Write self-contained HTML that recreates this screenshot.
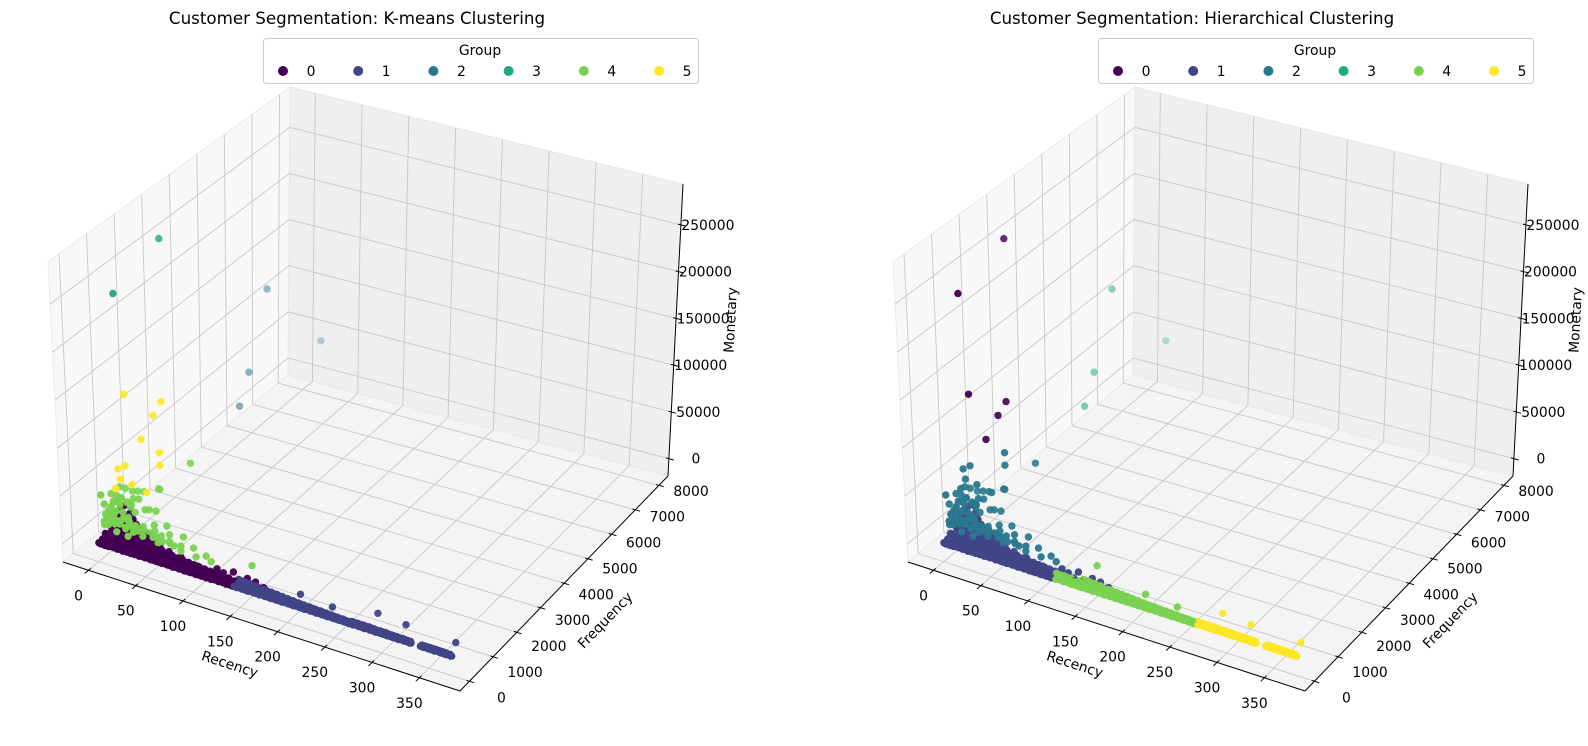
<!DOCTYPE html>
<html><head><meta charset="utf-8"><title>Customer Segmentation</title>
<style>
html,body{margin:0;padding:0;background:#fff;}
svg{display:block;font-family:"DejaVu Sans","Liberation Sans",sans-serif;}
</style></head>
<body>
<svg id="fig" width="1588" height="746" viewBox="0 0 1588 746" xmlns="http://www.w3.org/2000/svg">
<rect x="0" y="0" width="1588" height="746" fill="#fff"/>
</svg>
<script>
// ---------- data (Recency, Frequency, Monetary) ----------
const recencyTicks = [0,50,100,150,200,250,300,350];
const frequencyTicks = [0,1000,2000,3000,4000,5000,6000,7000,8000];
const monetaryTicks = [0,50000,100000,150000,200000,250000];
const groupLabels = [0,1,2,3,4,5];
const viridis6 = ["#440154","#414487","#2a788e","#22a884","#7ad151","#fde725"];

// floor band r 0-114  (kmeans 0, hier 1)
const bandA = [[0,40,500],[1,30,350],[2,55,700],[3,25,300],[4,60,800],[5,35,450],[6,50,650],[7,20,300],[8,45,600],[9,30,400],[10,55,750],[11,25,350],[12,40,500],[14,50,650],[16,30,400],[18,45,550],[20,25,350],[22,50,600],[24,35,450],[26,20,300],[28,45,550],[30,30,400],[32,40,500],[34,25,350],[36,50,600],[38,30,400],[40,45,550],[43,25,350],[46,40,500],[49,30,400],[52,45,550],[55,25,350],[58,40,500],[61,30,400],[64,35,450],[67,25,350],[70,40,500],[73,30,400],[76,35,450],[79,20,300],[82,40,500],[85,25,350],[88,35,450],[91,20,300],[94,30,400],[97,25,350],[100,35,450],[103,20,300],[106,30,400],[109,25,350],[112,30,400],[114,20,300],
[0,300,4500],[2,250,4000],[4,350,5000],[6,200,3500],[8,300,4200],[10,260,3800],[12,320,4400],[14,220,3200],[16,280,4000],[18,200,3000],[20,300,4200],[23,240,3400],[26,280,3800],[29,200,3000],[32,260,3600],[35,180,2800],[38,240,3400],[41,200,3000],[44,230,3200],[47,170,2600],[50,220,3000],[54,180,2700],[58,200,2900],[62,150,2400],[66,190,2800],[70,150,2300],[74,170,2500],[78,140,2200],[82,160,2400],[86,130,2100],[90,150,2300],[95,120,2000],[100,140,2200],[105,110,1900],[110,130,2000],
[0,700,14000],[1,900,12000],[3,600,16000],[5,800,11000],[7,500,13000],[9,750,10000],[11,600,12000],[13,900,9000],[15,500,10500],[18,650,9000],[21,550,9500],[24,700,8000],[27,450,8500],[30,600,7500],[34,400,8000],[38,500,7000],[42,350,7000],[46,450,6500],[50,300,6500],[55,400,6000],[60,300,5500],[66,350,5000],[72,250,5000],[80,300,4500],[90,220,4200],[100,200,4000]];
const bandAExtra = [[1,150,2200],[3,140,2000],[5,160,2300],[7,130,1900],[9,150,2100],[11,120,1800],[13,140,2000],[15,120,1800],[17,130,1900],[19,110,1700],[21,130,1900],[23,110,1700],[25,120,1800],[27,100,1600],[29,120,1800],[31,100,1600],[33,110,1700],[35,90,1500],[37,110,1700],[39,90,1500],[41,100,1600],[43,90,1500],[45,100,1600],[47,80,1400],[49,100,1600],[51,80,1400],[53,90,1500],[55,80,1400],[57,90,1500],[59,70,1300],[61,90,1500],[63,70,1300],[65,80,1400],[67,70,1300],[69,80,1400],[71,60,1200],[73,80,1400],[75,60,1200],[77,70,1300],[79,60,1200],[81,70,1300],[83,60,1200],[85,70,1300],[87,50,1100],[89,70,1300],[91,50,1100],[93,60,1200],[95,50,1100],[97,60,1200],[99,50,1100],[101,60,1200],[103,50,1100],[105,60,1200],[107,50,1000],[109,60,1100],[111,50,1000],[113,50,1000]];
const bandAUpper = [[0,500,9000],[2,450,8500],[4,500,9500],[6,400,8000],[8,450,8800],[10,400,8200],[12,450,8600],[14,380,7800],[16,420,8200],[18,360,7500],[20,400,7800],[22,350,7200],[24,380,7500],[26,330,7000],[28,360,7200],[30,320,6800],[32,340,7000],[34,300,6500],[36,330,6700],[38,290,6300],[40,310,6500],[42,280,6000],[44,300,6200],[46,270,5800],[48,290,6000],[50,260,5600],[52,280,5800],[54,250,5400],[56,270,5600],[58,240,5200],[60,260,5400],[63,230,5000],[66,250,5200],[69,220,4800],[72,240,5000],[75,210,4600],[78,230,4800],[81,200,4400],[84,220,4600],[87,190,4200],[90,210,4400],[93,180,4000],[96,200,4200],[99,170,3800],[102,190,4000],[105,160,3600],[108,180,3800],[111,150,3400],[114,170,3600],
[1,1000,18000],[3,800,20000],[5,1100,16000],[8,700,17000],[10,900,15000],[13,650,14500],[16,800,13000],[19,600,12500],[22,700,11500],[25,550,11000],[28,650,10000],[32,500,9500],[36,600,9000],[40,450,8500],[45,500,8000]];
// r 115-170 raised points (kmeans 0, hier 1)
const bandB1 = [[117,250,2000],[121,200,3500],[125,180,1800],[129,150,3000],[133,200,2000],[137,120,2500],[141,160,1800],[118,300,4500],[126,250,4000],[134,350,5000],[150,300,4500],[160,250,5000],[170,200,3500]];
// r 115-142 low band (kmeans 0, hier 4)
const bandB4 = [[115,30,400],[117,60,800],[119,20,300],[121,60,800],[123,40,500],[125,60,800],[127,25,350],[129,60,800],[131,35,450],[133,60,800],[135,20,300],[137,50,700],[139,30,400],[141,50,700],[142,25,350],[118,100,1200],[124,90,1100],[130,80,1000],[136,100,1200],[140,70,900],
[116,150,2800],[120,140,2700],[124,150,2800],[128,130,2600],[132,140,2700],[136,120,2500],[140,130,2600]];
// r 143-265 (kmeans 1, hier 4)
const bandC = [[143,30,400],[146,20,300],[149,35,450],[152,25,350],[155,30,400],[158,20,300],[161,35,450],[164,25,350],[167,30,400],[170,20,300],[173,35,450],[176,25,350],[179,30,400],[182,20,300],[185,35,450],[188,25,350],[191,30,400],[194,20,300],[197,35,450],[200,25,350],[203,30,400],[206,20,300],[209,35,450],[212,25,350],[215,30,400],[218,20,300],[221,35,450],[224,25,350],[227,30,400],[230,20,300],[233,35,450],[236,25,350],[239,30,400],[242,20,300],[245,35,450],[248,25,350],[251,30,400],[254,20,300],[257,35,450],[260,25,350],[263,30,400],[265,20,300],
[145,150,2200],[150,120,1800],[155,200,2600],[160,100,1600],[165,140,2000],[170,90,1500],[175,130,1900],[180,80,1400],[185,120,1800],[190,70,1300],[195,110,1700],[200,60,1200],[205,100,1600],[210,60,1100],[215,90,1500],[220,50,1000],[225,80,1400],[230,50,900],[235,70,1200],[240,40,800],[245,60,1100],[250,40,800],[255,60,1000],[260,30,700],[205,350,4000],[240,300,3000]];
const bandCExtra = [[144,80,1000],[147,90,1100],[148,70,900],[151,80,1000],[153,70,900],[157,80,1000],[159,70,900],[162,70,900],[163,80,1000],[166,60,800],[168,70,900],[172,60,800],[174,70,900],[177,60,800],[178,60,900],[181,60,800],[183,60,800],[187,50,700],[189,60,800],[192,50,700],[193,60,800],[196,50,700],[198,50,800],[202,50,700],[204,50,700],[207,40,600],[208,50,700],[211,40,600],[213,50,700],[217,40,600],[219,40,600],[222,40,600],[223,40,600],[226,40,600],[228,40,600],[232,40,600],[234,40,600],[237,30,500],[238,40,600],[241,30,500],[243,40,600],[247,30,500],[249,30,500],[252,30,500],[253,30,500],[256,30,500],[258,30,500],[262,30,500],[264,30,500]];
const bandCUpper = [[143,220,3200],[146,200,3000],[149,210,3100],[152,190,2900],[155,200,3000],[158,180,2800],[161,190,2900],[164,170,2700],[167,180,2800],[170,160,2600],[173,170,2700],[176,150,2500],[179,160,2600],[182,140,2400],[185,150,2500],[188,130,2300],[191,140,2400],[194,120,2200],[197,130,2300],[200,110,2100],[203,120,2200],[206,100,2000],[209,110,2100],[212,100,1900],[215,100,2000],[218,90,1800],[221,100,1900],[224,90,1700],[227,90,1800],[230,80,1600],[233,90,1700],[236,80,1500],[239,80,1600],[242,70,1400],[245,80,1500],[248,70,1300],[251,70,1400],[254,60,1200],[257,70,1300],[260,60,1100],[263,60,1200]];
// r 266-373 (kmeans 1, hier 5)
const bandD = [[266,30,400],[269,20,300],[272,35,450],[275,25,350],[278,30,400],[281,20,300],[284,35,450],[287,25,350],[290,30,400],[293,20,300],[296,35,450],[299,25,350],[302,30,400],[305,20,300],[308,35,450],[311,25,350],[314,30,400],[317,20,300],[320,35,450],[323,25,350],[326,30,400],[329,20,300],[340,30,400],[343,20,300],[346,35,450],[349,25,350],[352,30,400],[355,20,300],[358,35,450],[361,25,350],[364,30,400],[367,20,300],[370,35,450],[372,25,350],[373,30,400],
[268,60,1000],[275,50,900],[282,60,1000],[290,40,800],[298,50,900],[305,40,700],[312,50,800],[320,40,700],[326,50,800],[342,40,700],[350,50,800],[358,40,700],[365,50,800],[371,40,700],[283,500,5000],[314,450,4000],[368,400,3500]];
const bandDExtra = [[267,40,600],[271,40,600],[273,40,600],[277,40,600],[279,40,600],[283,40,600],[285,40,600],[288,40,600],[292,40,600],[294,40,600],[297,30,500],[301,30,500],[303,30,500],[307,30,500],[309,30,500],[313,30,500],[316,30,500],[319,30,500],[322,30,500],[325,30,500],[328,30,500],[330,30,500],[341,30,500],[345,30,500],[347,30,500],[351,30,500],[353,30,500],[356,30,500],[360,30,500],[362,30,500],[366,30,500],[369,30,500],[371,30,500]];
const bandDUpper = [[266,90,1300],[269,80,1200],[272,90,1300],[275,80,1200],[278,90,1300],[281,80,1200],[284,90,1300],[287,80,1200],[290,80,1200],[293,70,1100],[296,80,1200],[299,70,1100],[302,80,1200],[305,70,1100],[308,70,1100],[311,70,1000],[314,70,1100],[317,60,1000],[320,70,1100],[323,60,1000],[326,60,1000],[329,60,1000],[341,60,1000],[344,60,1000],[347,60,1000],[350,60,1000],[353,60,1000],[356,60,1000],[359,60,1000],[362,60,1000],[365,60,1000],[368,50,900],[371,50,900]];
// mid-value customers (kmeans 4, hier 2)
const midValue = [[0,300,35000],[2,500,42000],[4,200,28000],[6,700,46000],[3,400,22000],[8,300,18000],[10,600,38000],[12,250,30000],[14,800,25000],[16,350,45000],[18,500,20000],[20,900,33000],[22,300,16000],[24,600,27000],[26,400,40000],[28,1000,22000],[30,300,15000],[32,700,30000],[35,500,18000],[38,900,26000],[40,300,14000],[44,600,20000],[48,400,13000],[52,800,17000],[56,300,12000],[60,600,15000],[66,400,12000],[72,700,14000],[80,300,11000],[88,500,12000],[96,300,10000],[104,400,11000],[112,300,10000],[1,150,48000],[5,1200,30000],[9,1500,24000],[13,100,41000],[36,1100,44000],[40,1000,47000],[62,1400,72000],
[2,200,20000],[5,250,16000],[7,150,25000],[9,400,14000],[11,300,22000],[15,200,13000],[19,350,26000],[23,250,19000],[27,200,12000],[31,350,21000],[0,500,25000],[4,600,32000],[7,400,38000],[17,600,35000],
[1,250,15000],[3,300,18000],[5,350,24000],[6,250,31000],[8,450,27000],[10,350,20000],[11,500,33000],[13,400,16000],[15,450,28000],[17,300,23000],[19,550,17000],[21,450,24000],[23,500,14000],[25,350,21000],[29,450,17000],[33,400,14500],[37,450,16000],[42,500,13500],[46,550,15500],[50,450,12500],[54,500,14000],[58,400,11500],[64,450,12500],[70,400,11000],[76,450,11500],[2,700,36000],[6,900,40000],[10,800,29000],[14,1100,35000],[20,700,38000]];
const midValueLate = [[150,500,13000]]; // kmeans 4, hier 4
// high-value customers (kmeans 5)
const highValueTop = [[22,400,154000],[44,1000,140000],[38,900,126000],[33,600,106000]]; // hier 0
const highValueRest = [[10,400,52000],[12,450,72000],[18,500,76000],[14,450,62000],[26,450,60000],[40,500,55000],[52,600,85000],[52,600,98000]]; // hier 2
// top spenders (kmeans 3, hier 0)
const topSpenders = [[14,431,256000],[16,2080,279000]];
// very frequent buyers (kmeans 2, hier 3)
const frequentBuyers = [[20,7983,40000],[20,5903,143000],[18,4900,40000],[20,5200,70000]];

const groups = [
  {name:"band-a", pts:bandA, km:0, hc:1},
  {name:"band-a-extra", pts:bandAExtra, km:0, hc:1},
  {name:"band-a-upper", pts:bandAUpper, km:0, hc:1},
  {name:"band-b1", pts:bandB1, km:0, hc:1},
  {name:"band-b4", pts:bandB4, km:0, hc:4},
  {name:"band-c", pts:bandC, km:1, hc:4},
  {name:"band-c-extra", pts:bandCExtra, km:1, hc:4},
  {name:"band-c-upper", pts:bandCUpper, km:1, hc:4},
  {name:"band-d", pts:bandD, km:1, hc:5},
  {name:"band-d-extra", pts:bandDExtra, km:1, hc:5},
  {name:"band-d-upper", pts:bandDUpper, km:1, hc:5},
  {name:"mid-value", pts:midValue, km:4, hc:2},
  {name:"mid-value-late", pts:midValueLate, km:4, hc:4},
  {name:"high-value-top", pts:highValueTop, km:5, hc:0},
  {name:"high-value-rest", pts:highValueRest, km:5, hc:2},
  {name:"top-spenders", pts:topSpenders, km:3, hc:0},
  {name:"frequent-buyers", pts:frequentBuyers, km:2, hc:3}
];

// ---------- axis functions ----------
const RL = [-27, 393], FL = [-398, 8382], ML = [-18476, 293678];
const corners = {"000":[63,562],"100":[460,691],"110":[668,476],"010":[288,375],
                 "001":[48,262],"101":[467,387],"111":[683,184],"011":[290,87]};
function box(u,v,w,dx){
  let x=0,y=0;
  for(const a of [0,1]) for(const b of [0,1]) for(const c of [0,1]){
    const wt=(a?u:1-u)*(b?v:1-v)*(c?w:1-w);
    const p=corners[""+a+b+c]; x+=wt*p[0]; y+=wt*p[1];
  }
  return [x+dx,y];
}
const xu = r => (r-RL[0])/(RL[1]-RL[0]);
const yv = f => (f-FL[0])/(FL[1]-FL[0]);
const zw = m => (m-ML[0])/(ML[1]-ML[0]);
function proj(r,f,m,dx){ return box(xu(r),yv(f),zw(m),dx); }

const NS="http://www.w3.org/2000/svg";
const svg=document.getElementById("fig");
function mk(tag, attrs, parent){
  const el=document.createElementNS(NS,tag);
  for(const k in attrs) el.setAttribute(k,attrs[k]);
  (parent||svg).appendChild(el); return el;
}
function line(p,q,stroke,w,parent){
  return mk("line",{x1:p[0].toFixed(1),y1:p[1].toFixed(1),x2:q[0].toFixed(1),y2:q[1].toFixed(1),stroke:stroke,"stroke-width":w},parent);
}
function poly(pts,fill,parent){
  return mk("polygon",{points:pts.map(p=>p[0].toFixed(1)+","+p[1].toFixed(1)).join(" "),fill:fill,stroke:"#e6e6e6","stroke-width":0.8},parent);
}

function drawPlot(dx, legendDx, title, key, prefix){
  const g=mk("g",{});
  
  
  const B=(u,v,w)=>box(u,v,w,dx);
  let el=poly([B(0,0,0),B(0,1,0),B(0,1,1),B(0,0,1)],"#f8f8f8",g);
  
  
  el=poly([B(0,1,0),B(1,1,0),B(1,1,1),B(0,1,1)],"#efefef",g);
  
  
  el=poly([B(0,0,0),B(1,0,0),B(1,1,0),B(0,1,0)],"#f4f4f4",g);
  
  
  const gc="#c8c8c8";
  recencyTicks.forEach(t=>{ const u=xu(t);
    el=line(B(u,0,0),B(u,1,0),gc,0.9,g);
    
    
    el=line(B(u,1,0),B(u,1,1),gc,0.9,g);
    
    
  });
  frequencyTicks.forEach(t=>{ const v=yv(t);
    el=line(B(0,v,0),B(1,v,0),gc,0.9,g);
    
    
    el=line(B(0,v,0),B(0,v,1),gc,0.9,g);
    
    
  });
  monetaryTicks.forEach(t=>{ const w=zw(t);
    el=line(B(0,0,w),B(0,1,w),gc,0.9,g);
    
    
    el=line(B(0,1,w),B(1,1,w),gc,0.9,g);
    
    
  });
  el=line(B(0,0,0),B(1,0,0),"#000",1,g);
  
  
  el=line(B(1,0,0),B(1,1,0),"#000",1,g);
  
  
  el=line(B(1,1,0),B(1,1,1),"#000",1,g);
  
  
  function unit(a,b){const dx_=a[0]-b[0],dy_=a[1]-b[1],l=Math.hypot(dx_,dy_);return [dx_/l,dy_/l];}
  recencyTicks.forEach(t=>{ const u=xu(t); const p=B(u,0,0); const d=unit(p,B(u,0.05,0));
    el=line([p[0]-d[0]*3,p[1]-d[1]*3],[p[0]+d[0]*5,p[1]+d[1]*5],"#000",1,g);
    
    
    el=mk("text",{x:(p[0]-10).toFixed(1),y:(p[1]+30).toFixed(1),"font-size":"13.9","text-anchor":"middle",fill:"#000"},g);
    el.textContent=String(t);
    
    
  });
  frequencyTicks.forEach(t=>{ const v=yv(t); const p=B(1,v,0); const d=unit(p,B(0.95,v,0));
    el=line([p[0]-d[0]*3,p[1]-d[1]*3],[p[0]+d[0]*5,p[1]+d[1]*5],"#000",1,g);
    
    
    el=mk("text",{x:(p[0]+32).toFixed(1),y:(p[1]+22-12*v).toFixed(1),"font-size":"13.9","text-anchor":"middle",fill:"#000"},g);
    el.textContent=String(t);
    
    
  });
  monetaryTicks.forEach(t=>{ const w=zw(t); const p=B(1,1,w); const d=unit(p,B(0.95,1,w));
    el=line([p[0]-d[0]*3,p[1]-d[1]*3],[p[0]+d[0]*5,p[1]+d[1]*5],"#000",1,g);
    
    
    el=mk("text",{x:(p[0]+27).toFixed(1),y:(p[1]+5).toFixed(1),"font-size":"13.9","text-anchor":"middle",fill:"#000"},g);
    el.textContent=String(t);
    
    
  });
  el=mk("text",{x:230+dx,y:669,"font-size":"13.9","text-anchor":"middle",transform:"rotate(18 "+(230+dx)+" 664)"},g);
  el.textContent="Recency";
  
  
  el=mk("text",{x:605+dx,y:625,"font-size":"13.9","text-anchor":"middle",transform:"rotate(-46 "+(605+dx)+" 620)"},g);
  el.textContent="Frequency";
  
  
  el=mk("text",{x:735+dx,y:330,"font-size":"13.9","text-anchor":"middle",transform:"rotate(-87 "+(730+dx)+" 325)"},g);
  el.textContent="Monetary";
  
  
  const pts=[];
  groups.forEach(gr=>gr.pts.forEach(p=>pts.push({r:p[0],f:p[1],m:p[2],c:gr[key]})));
  pts.sort((a,b)=>(yv(b.f)-0.4*xu(b.r))-(yv(a.f)-0.4*xu(a.r)));
  const pg=mk("g",{},g);
  
  
  pts.forEach(p=>{
    const q=proj(p.r,p.f,p.m,dx);
    const v=yv(p.f);
    const a=Math.max(0.3,Math.min(1,1.03-0.75*v));
    const c=mk("circle",{cx:q[0].toFixed(1),cy:q[1].toFixed(1),r:3.7,fill:viridis6[p.c],"fill-opacity":a.toFixed(2)},pg);
    
    
  });
  el=mk("text",{x:357+legendDx,y:24,"font-size":"16.7","text-anchor":"middle",fill:"#000"},g);
  el.textContent=title;
  
  
  const lg=mk("g",{},g);
  
  
  el=mk("rect",{x:263.5+legendDx,y:38.5,width:435,height:45,rx:3,fill:"#fff","fill-opacity":0.85,stroke:"#cccccc","stroke-width":1},lg);
  
  
  el=mk("text",{x:480+legendDx,y:55,"font-size":"13.9","text-anchor":"middle"},lg);
  el.textContent="Group";
  
  
  groupLabels.forEach((lab,i)=>{
    const mx=283+i*75.2+legendDx;
    const e=mk("g",{},lg);
    
    
    const c=mk("circle",{cx:mx,cy:71,r:5,fill:viridis6[lab]},e);
    
    
    const t=mk("text",{x:mx+28,y:76,"font-size":"13.9","text-anchor":"middle"},e);
    t.textContent=String(lab);
    
    
  });
}
drawPlot(0,0,"Customer Segmentation: K-means Clustering","km","kmeans");
drawPlot(845,835,"Customer Segmentation: Hierarchical Clustering","hc","hierarchical");
</script>
</body></html>
